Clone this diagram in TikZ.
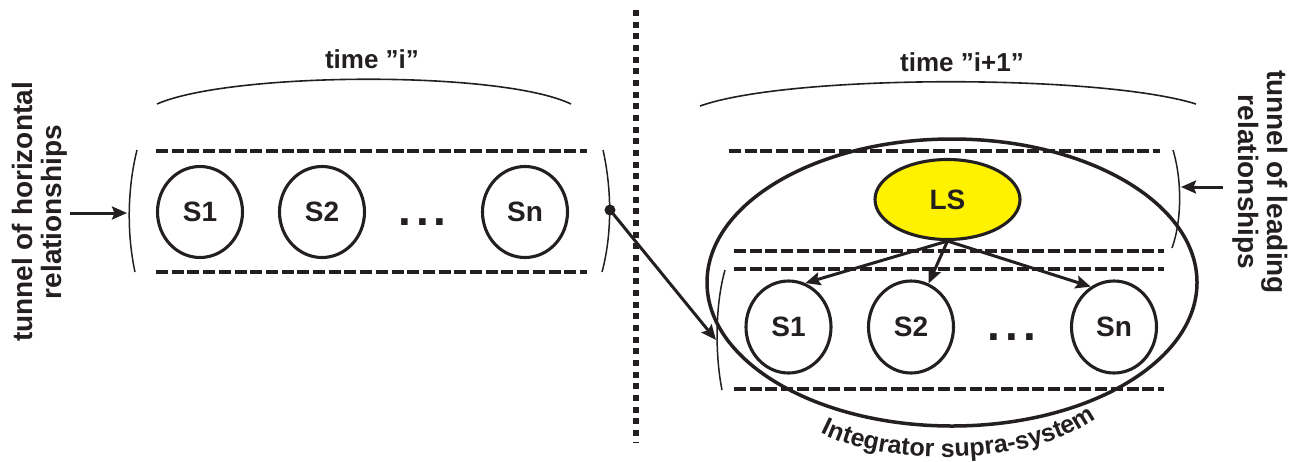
\documentclass[tikz,border=0pt]{standalone}
\usepackage{fontspec}
\setmainfont{Liberation Sans}
\usetikzlibrary{arrows.meta,shapes.geometric,decorations.text}
\definecolor{ink}{RGB}{35,31,32}
\definecolor{lsyellow}{RGB}{255,242,0}
\begin{document}
\begin{tikzpicture}[x=1pt,y=-1pt,
  sys/.style={draw=ink, line width=3.1pt, ellipse, minimum width=85pt, minimum height=91pt, inner sep=0pt, font=\fontsize{28}{28}\selectfont\bfseries, text=ink},
  tunnel/.style={draw=ink, line width=3.4pt, dash pattern=on 12pt off 3.7pt},
  paren/.style={draw=ink, line width=1.5pt},
  brace/.style={draw=ink, line width=1.6pt},
  arr/.style={draw=ink, line width=3pt, -{Stealth[length=15pt,width=13pt,inset=2.5pt]}},
  dotsx/.style={inner sep=0pt, text=ink, font=\fontsize{46}{46}\selectfont\bfseries},
  lbl/.style={text=ink, font=\fontsize{26}{26}\selectfont\bfseries},
  vlbl/.style={text=ink, align=center, inner sep=0pt, font=\fontsize{28}{29}\selectfont\bfseries}]
\useasboundingbox (0,0) rectangle (1303,461);

% divider
\draw[ink, line width=6pt, dash pattern=on 6pt off 5.67pt] (636,10) -- (636,442);

% ---------- left: time i ----------
\node[lbl, anchor=base] (ti) at (372,68) {time ”i”};
\draw[brace] (157,104) .. controls (230,72) and (500,70) .. (571,104);
\draw[tunnel] (156,151) -- (587,151);
\draw[tunnel] (156,272) -- (587,272);
\draw[paren] (137,150) .. controls (127,190) and (127,235) .. (135,272);
\draw[paren] (603,150) .. controls (612,190) and (612,235) .. (602,272);
\node[sys] (a1) at (200,212) {S1};
\node[sys] (a2) at (322,212) {S2};
\node[dotsx] (ad) at (422.5,222.5) {.\kern5pt.\kern5pt.};
\node[sys] (an) at (525,212) {Sn};
\node[vlbl, rotate=90] (th) at (40,212) {tunnel of horizontal\\relationships};
\coordinate (hs) at (70,213);
\coordinate (he) at (127,213);
\draw[arr] (hs) -- (he);
\node[circle, fill=ink, minimum size=11pt, inner sep=0pt] (bul) at (610,210) {};

% ---------- right: time i+1 ----------
\node[lbl, anchor=base] (ti1) at (962,71) {time ”i+1”};
\draw[brace] (700,106) .. controls (790,74) and (1100,74) .. (1196,104);
\node[draw=ink, line width=3.5pt, ellipse, minimum width=490pt, minimum height=287pt, inner sep=0pt] (iss) at (952,282.5) {};
\draw[tunnel] (729,151) -- (1160,151);
\draw[tunnel] (734,251) -- (1164,251);
\draw[tunnel] (734,269) -- (1164,269);
\draw[tunnel] (734,389) -- (1164,389);
\draw[paren] (1173,150) .. controls (1182,180) and (1182,220) .. (1172,248);
\draw[paren] (725,270) .. controls (715,305) and (715,355) .. (722,390);
\node[draw=ink, fill=lsyellow, line width=3.1pt, ellipse, minimum width=145pt, minimum height=80pt, inner sep=0pt, font=\fontsize{28}{28}\selectfont\bfseries, text=ink] (ls) at (947.5,199.5) {LS};
\node[sys, minimum height=92pt] (b1) at (788.5,327) {S1};
\node[sys, minimum height=92pt] (b2) at (911,327) {S2};
\node[dotsx] (bd) at (1012,337) {.\kern5pt.\kern5pt.};
\node[sys, minimum height=92pt] (bn) at (1114,327) {Sn};
\draw[arr] (ls.south) -- (b1.69);
\draw[arr] (ls.south) -- (b2.68);
\draw[arr] (ls.south) -- (bn.120);
\node[vlbl, rotate=-90] (tl) at (1260,182) {tunnel of leading\\relationships};
\coordinate (ls1) at (1223,187);
\coordinate (ls2) at (1181,187);
\draw[arr] (ls1) -- (ls2);

% connector across the divider
\coordinate (tipR) at (716,340);
\draw[arr] (bul.center) -- (tipR);

% curved caption
\path[decorate, decoration={text along path, text align=center, text color=ink,
  text={|\fontsize{25}{25}\selectfont\bfseries|Integrator supra-system}}]
  (812,428) .. controls (880,470) and (1040,468) .. (1104,412);
\end{tikzpicture}
\end{document}
